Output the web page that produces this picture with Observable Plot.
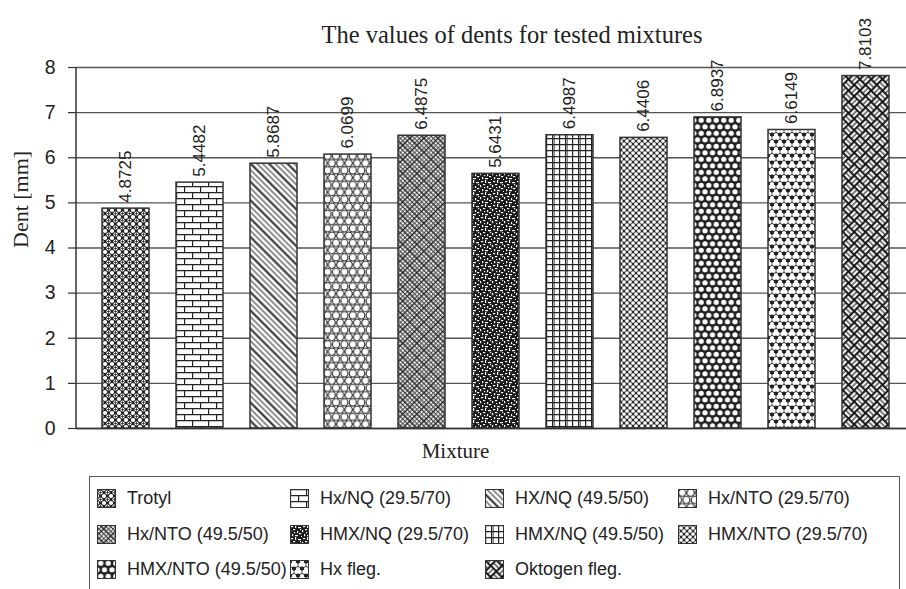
<!DOCTYPE html>
<html>
<head>
<meta charset="utf-8">
<script src="https://cdn.jsdelivr.net/npm/d3@7"></script>
<script src="https://cdn.jsdelivr.net/npm/@observablehq/plot@0.6"></script>
<style>
  html, body { margin: 0; padding: 0; background: #fff; }
  #wrap { position: relative; width: 906px; height: 589px; overflow: hidden; background: #fff; }
  #title { position: absolute; top: 23px; left: 512px; transform: translateX(-50%); white-space: nowrap;
           font-family: "Liberation Serif", "Times New Roman", serif; font-size: 24.5px; line-height: 24.5px; color: #222; }
  #chart { position: absolute; left: 0; top: 0; }
  #legend { position: absolute; left: 89px; top: 476px; width: 811px; height: 140px; box-sizing: border-box;
            border: 1.5px solid #555; }
  .item { position: absolute; display: flex; align-items: center; height: 20px;
          font-family: "Liberation Sans", Arial, sans-serif; font-size: 18px; color: #222; white-space: nowrap; }
  .item svg { margin-right: 11px; flex: none; }
</style>
</head>
<body>
<svg width="0" height="0" style="position:absolute">
  <defs>
    <pattern id="p0" patternUnits="userSpaceOnUse" width="7" height="7">
      <rect width="7" height="7" fill="#222"/>
      <g fill="#fff">
        <circle cx="0" cy="0" r="2.1"/><circle cx="7" cy="0" r="2.1"/>
        <circle cx="0" cy="7" r="2.1"/><circle cx="7" cy="7" r="2.1"/>
        <circle cx="3.5" cy="3.5" r="2.1"/>
      </g>
      <path d="M2.2,3.5H4.8M3.5,2.2V4.8" stroke="#222" stroke-width="0.9"/>
    </pattern>
    <pattern id="p1" patternUnits="userSpaceOnUse" width="16" height="12">
      <rect width="16" height="12" fill="#fff"/>
      <path d="M0,0.6H16M0,6.6H16M0.6,0V6.6M8.6,6.6V12" stroke="#222" stroke-width="1.2" fill="none"/>
    </pattern>
    <pattern id="p2" patternUnits="userSpaceOnUse" width="13" height="13" patternTransform="rotate(-45)">
      <rect width="13" height="13" fill="#fff"/>
      <path d="M1,0V13M5,0V13" stroke="#222" stroke-width="1"/>
      <path d="M9.5,0V13" stroke="#222" stroke-width="2"/>
    </pattern>
    <pattern id="p3" patternUnits="userSpaceOnUse" width="8.4" height="14.5">
      <rect width="8.4" height="14.5" fill="#fff"/>
      <g fill="none" stroke="#222" stroke-width="1.1">
        <circle cx="4.2" cy="3.63" r="3.6"/>
        <circle cx="0" cy="10.88" r="3.6"/><circle cx="8.4" cy="10.88" r="3.6"/>
        <circle cx="0" cy="-3.63" r="3.6"/><circle cx="8.4" cy="-3.63" r="3.6"/>
        <circle cx="4.2" cy="18.13" r="3.6"/>
      </g>
    </pattern>
    <pattern id="p4" patternUnits="userSpaceOnUse" width="10" height="10" patternTransform="rotate(45)">
      <rect width="10" height="10" fill="#fff"/>
      <path d="M1,0V10M4.3,0V10M0,1.5H10M0,4.8H10" stroke="#222" stroke-width="0.9"/>
      <path d="M7.5,0V10M0,8H10" stroke="#222" stroke-width="1.6"/>
    </pattern>
    <pattern id="p5" patternUnits="userSpaceOnUse" width="12" height="12">
      <rect width="12" height="12" fill="#1a1a1a"/>
      <g fill="#fff">
        <rect x="1" y="1" width="2.2" height="1.2"/><rect x="5" y="0" width="1.2" height="3"/>
        <rect x="8" y="2" width="3" height="1.2"/><rect x="0" y="5" width="1.2" height="2.2"/>
        <rect x="3" y="4" width="2.2" height="1.2"/><rect x="7" y="6" width="1.2" height="2.2"/>
        <rect x="9" y="8" width="2.2" height="1.2"/><rect x="2" y="9" width="1.2" height="2.2"/>
        <rect x="5" y="10" width="3" height="1.2"/><rect x="10" y="4" width="1.2" height="1.2"/>
        <rect x="4" y="7" width="1.2" height="1.2"/><rect x="11" y="11" width="1" height="1"/>
      </g>
    </pattern>
    <pattern id="p6" patternUnits="userSpaceOnUse" width="13" height="12">
      <rect width="13" height="12" fill="#fff"/>
      <path d="M0.6,0V12M6.6,0V12M0,0.6H13M0,6.6H13" stroke="#222" stroke-width="1.2"/>
      <path d="M8.2,0V12" stroke="#222" stroke-width="0.8"/>
    </pattern>
    <pattern id="p7" patternUnits="userSpaceOnUse" width="6" height="6">
      <rect width="6" height="6" fill="#2a2a2a"/>
      <g fill="#fff">
        <circle cx="0" cy="0" r="1.85"/><circle cx="6" cy="0" r="1.85"/>
        <circle cx="0" cy="6" r="1.85"/><circle cx="6" cy="6" r="1.85"/>
        <circle cx="3" cy="3" r="1.85"/>
      </g>
    </pattern>
    <pattern id="p8" patternUnits="userSpaceOnUse" width="7.5" height="13">
      <rect width="7.5" height="13" fill="#222"/>
      <g fill="#fff">
        <circle cx="3.75" cy="3.25" r="2.6"/>
        <circle cx="0" cy="9.75" r="2.6"/><circle cx="7.5" cy="9.75" r="2.6"/>
      </g>
    </pattern>
    <pattern id="p9" patternUnits="userSpaceOnUse" width="8" height="14">
      <rect width="8" height="14" fill="#222"/>
      <g fill="#fff">
        <circle cx="4" cy="2.1" r="2.1"/><circle cx="2.3" cy="4.9" r="2.1"/><circle cx="5.7" cy="4.9" r="2.1"/>
        <circle cx="4" cy="4" r="1.9"/>
        <circle cx="0" cy="9.1" r="2.1"/><circle cx="-1.7" cy="11.9" r="2.1"/><circle cx="1.7" cy="11.9" r="2.1"/>
        <circle cx="0" cy="11" r="1.9"/>
        <circle cx="8" cy="9.1" r="2.1"/><circle cx="6.3" cy="11.9" r="2.1"/><circle cx="9.7" cy="11.9" r="2.1"/>
        <circle cx="8" cy="11" r="1.9"/>
      </g>
    </pattern>
    <pattern id="p10" patternUnits="userSpaceOnUse" width="16" height="16" patternTransform="rotate(45)">
      <rect width="16" height="16" fill="#111"/>
      <g fill="#fff">
        <rect x="0.8" y="1.2" width="6.4" height="2.3"/><rect x="0.8" y="4.6" width="6.4" height="2.3"/>
        <rect x="9.2" y="0.8" width="2.3" height="6.4"/><rect x="12.6" y="0.8" width="2.3" height="6.4"/>
        <rect x="1.2" y="8.8" width="2.3" height="6.4"/><rect x="4.6" y="8.8" width="2.3" height="6.4"/>
        <rect x="8.8" y="9.2" width="6.4" height="2.3"/><rect x="8.8" y="12.6" width="6.4" height="2.3"/>
      </g>
    </pattern>
  </defs>
</svg>
<div id="wrap">
  <div id="chart"></div>
  <div id="title">The values of dents for tested mixtures</div>
  <div id="legend"></div>
</div>
<script>
const mixtures = [
  "Trotyl", "Hx/NQ (29.5/70)", "HX/NQ (49.5/50)", "Hx/NTO (29.5/70)",
  "Hx/NTO (49.5/50)", "HMX/NQ (29.5/70)", "HMX/NQ (49.5/50)", "HMX/NTO (29.5/70)",
  "HMX/NTO (49.5/50)", "Hx fleg.", "Oktogen fleg."
];
const dents = [4.8725, 5.4482, 5.8687, 6.0699, 6.4875, 5.6431, 6.4987, 6.4406, 6.8937, 6.6149, 7.8103];
const valueLabels = ["4.8725", "5.4482", "5.8687", "6.0699", "6.4875", "5.6431", "6.4987", "6.4406", "6.8937", "6.6149", "7.8103"];
const yTicks = [0, 1, 2, 3, 4, 5, 6, 7, 8];
const patternIds = ["p0", "p1", "p2", "p3", "p4", "p5", "p6", "p7", "p8", "p9", "p10"];

const data = mixtures.map((m, i) => ({mixture: m, dent: dents[i], label: valueLabels[i], pat: `url(#${patternIds[i]})`}));

const axisLine = (index, scales, values, dim) => {
  const l = document.createElementNS("http://www.w3.org/2000/svg", "line");
  l.setAttribute("x1", dim.marginLeft); l.setAttribute("x2", dim.marginLeft);
  l.setAttribute("y1", dim.marginTop); l.setAttribute("y2", dim.height - dim.marginBottom);
  l.setAttribute("stroke", "#333"); l.setAttribute("stroke-width", 1.5);
  return l;
};

const chart = Plot.plot({
  width: 906, height: 470,
  marginLeft: 76, marginRight: 0, marginTop: 67, marginBottom: 42,
  style: {fontFamily: "'Liberation Sans', Arial, sans-serif", background: "transparent", color: "#222"},
  x: {domain: mixtures, range: [85.3, 906.4], paddingInner: 0.366, paddingOuter: 0.183, axis: null},
  y: {domain: [0, 8], axis: null},
  color: {type: "identity"},
  marks: [
    Plot.gridY(yTicks, {stroke: "#555", strokeOpacity: 1, strokeWidth: 1.3}),
    Plot.barY(data, {x: "mixture", y: "dent", fill: "pat", stroke: "#333", strokeWidth: 1.5}),
    Plot.ruleY([0], {stroke: "#333", strokeWidth: 1.5}),
    axisLine,
    Plot.axisY(yTicks, {tickSize: 8, tickPadding: 13, fontSize: 19.5, label: null, stroke: "#333", strokeWidth: 1.2}),
    Plot.text(data, {x: "mixture", y: "dent", text: "label", rotate: -90, textAnchor: "start", lineAnchor: "middle",
      dy: -6, fontSize: 17, fill: "#222"}),
    Plot.text(["Mixture"], {frameAnchor: "bottom", dy: 29, dx: -36, fontSize: 21, fill: "#222",
      fontFamily: "'Liberation Serif', 'Times New Roman', serif"}),
    Plot.text(["Dent [mm]"], {frameAnchor: "left", rotate: -90, dx: -56, fontSize: 22, fill: "#222",
      fontFamily: "'Liberation Serif', 'Times New Roman', serif"})
  ]
});
document.getElementById("chart").appendChild(chart);

// legend
const legend = document.getElementById("legend");
const colX = [7, 200, 395, 588];
const rowY = [11, 47, 82];
mixtures.forEach((name, j) => {
  const c = j % 4, r = Math.floor(j / 4);
  const item = document.createElement("div");
  item.className = "item";
  item.style.left = colX[c] + "px";
  item.style.top = rowY[r] + "px";
  const sw = document.createElementNS("http://www.w3.org/2000/svg", "svg");
  sw.setAttribute("width", 19); sw.setAttribute("height", 19);
  sw.innerHTML = `<rect x="0.5" y="0.5" width="18" height="18" fill="url(#${patternIds[j]})" stroke="#333" stroke-width="1"/>`;
  item.appendChild(sw);
  const t = document.createElement("span");
  t.textContent = name;
  item.appendChild(t);
  legend.appendChild(item);
});
</script>
</body>
</html>
